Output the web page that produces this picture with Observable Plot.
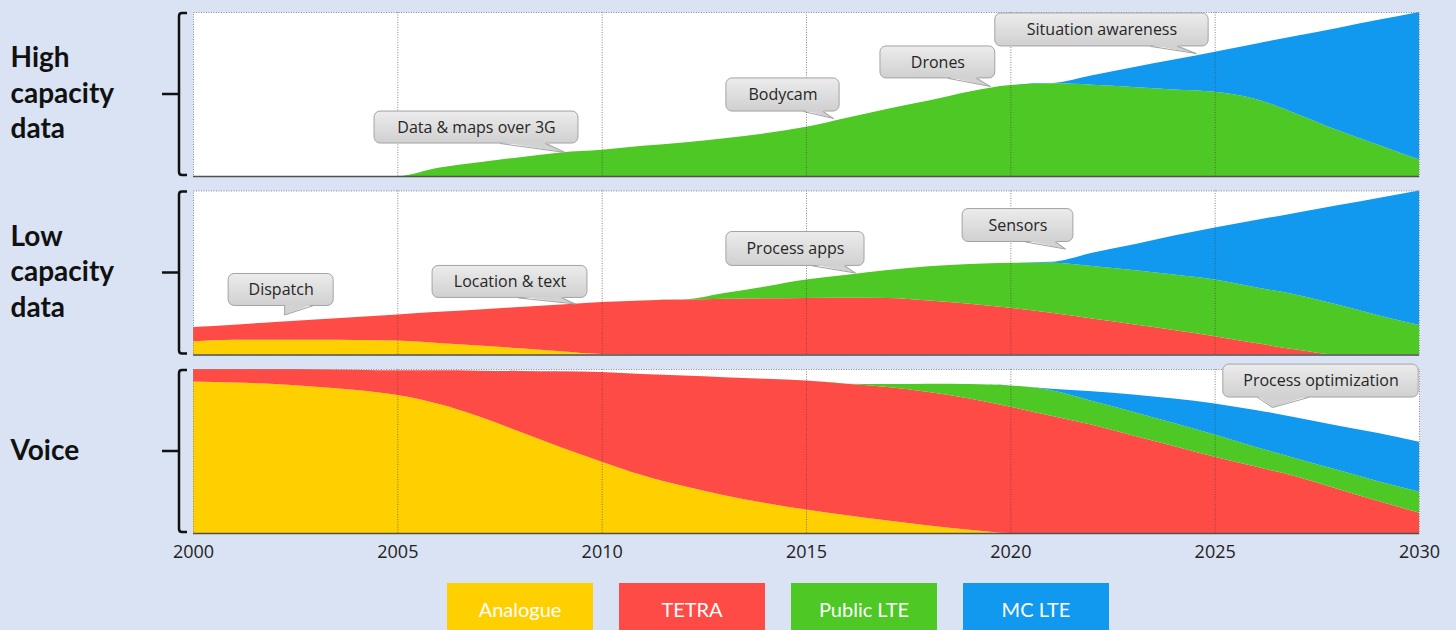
<!DOCTYPE html>
<html>
<head>
<meta charset="utf-8">
<script src="https://cdn.jsdelivr.net/npm/d3@7"></script>
<script src="https://cdn.jsdelivr.net/npm/@observablehq/plot@0.6"></script>
<style>
  html, body { margin: 0; padding: 0; }
  body { width: 1456px; height: 630px; overflow: hidden; background: #DAE3F3; position: relative; font-family: "Open Sans", sans-serif; }
  #chart { position: absolute; left: 0; top: 0; }
  #legend { position: absolute; left: 0; top: 583px; width: 1456px; height: 52px; }
  .item { position: absolute; top: 0; width: 146px; height: 52px; color: #fff; font-family: Lato, sans-serif; font-size: 20px; display: flex; align-items: center; justify-content: center; }
</style>
</head>
<body>
<div id="chart"></div>
<div id="legend"></div>
<script>
// ---------- data ----------
const years = [2000,2001,2002,2003,2004,2005,2006,2007,2008,2009,2010,2011,2012,2013,2014,2015,2016,2017,2018,2019,2020,2021,2022,2023,2024,2025,2026,2027,2028,2029,2030];
const techs = ["Analogue", "TETRA", "Public LTE", "MC LTE"];
const techColors = ["#FFD000", "#FF4B45", "#4DC825", "#1199F0"];
const panels = ["High capacity data", "Low capacity data", "Voice"];
const panelLabels = ["High\ncapacity\ndata", "Low\ncapacity\ndata", "Voice"];
const xTicks = [2000, 2005, 2010, 2015, 2020, 2025, 2030];

// High capacity data (layer thickness, % of panel height)
const highAnalogue  = [0,0,0,0,0,0,0,0,0,0,0,0,0,0,0,0,0,0,0,0,0,0,0,0,0,0,0,0,0,0,0];
const highTETRA     = [0,0,0,0,0,0,0,0,0,0,0,0,0,0,0,0,0,0,0,0,0,0,0,0,0,0,0,0,0,0,0];
const highPublicLTE = [0,0,0,0,0,0,5,8.4,11.5,14.4,16,18.4,20.5,23,26,30,35.5,41,46,51.5,55.5,56.5,55.7,54.3,52.8,51.4,47,38,28,19,10];
const highMCLTE     = [0,0,0,0,0,0,0,0,0,0,0,0,0,0,0,0,0,0,0,0,0,0,5.8,12,18.2,24.4,33.7,47.5,62.3,76.2,90];

// Low capacity data
const lowAnalogue  = [8,9,9,9,8.8,8.5,7,5.5,3.8,2,0.3,0,0,0,0,0,0,0,0,0,0,0,0,0,0,0,0,0,0,0,0];
const lowTETRA     = [8.7,9.2,10.8,12.3,14.1,15.9,19,22,25.2,28.5,31.7,33,33.5,34,34.3,34.5,34.6,34.5,33,31,28.5,25.5,22,18.5,15,11.2,7,3,0,0,0];
const lowPublicLTE = [0,0,0,0,0,0,0,0,0,0,0,0,0,3.5,7.2,11.2,14.1,17,20.8,24.2,27.4,30.5,32,33,33.8,34.5,34,33.5,30.5,24,18];
const lowMCLTE     = [0,0,0,0,0,0,0,0,0,0,0,0,0,0,0,0,0,0,0,0,0,0.5,8,15.5,23.7,31.8,41,50,60.5,71.5,82];

// Voice
const voiceAnalogue  = [92.3,91.7,90.9,89.2,87.2,84.1,78.8,71,61.8,52.3,43.5,35.2,28.6,23,18.3,14.3,10.8,7.6,4.6,2,0,0,0,0,0,0,0,0,0,0,0];
const voiceTETRA     = [7.7,8.3,9.1,10.6,12.4,15.1,20.4,28,37,46.3,54.7,61.8,67.4,72,75.7,78.7,80.2,81.4,81.4,80,77,71.5,66,59.5,53,46.5,40.5,34.5,27,19.5,12.4];
const voicePublicLTE = [0,0,0,0,0,0,0,0,0,0,0,0,0,0,0,0,0,1.8,5,8.8,13,15.5,14.5,14.5,14,13.5,12,11,11.5,12,12.8];
const voiceMCLTE     = [0,0,0,0,0,0,0,0,0,0,0,0,0,0,0,0,0,0,0,0,0,1,6,10.5,15,19,22.5,25,27,29.5,30.5];

// Callout annotations: box extent (x1..x2 years, y1..y2 values), pointer base (b1..b2) and tip (tx, ty)
const callouts = [
  {panel: "High capacity data", label: "Data & maps over 3G", x1: 2004.43, x2: 2009.42, y1: 20.1, y2: 39.6, b1: 2007.51, b2: 2008.61, tx: 2009.10, ty: 14.6},
  {panel: "High capacity data", label: "Bodycam", x1: 2013.04, x2: 2015.81, y1: 39.6, y2: 59.8, b1: 2014.93, b2: 2015.40, tx: 2015.66, ty: 35.4},
  {panel: "High capacity data", label: "Drones", x1: 2016.81, x2: 2019.62, y1: 59.8, y2: 79.3, b1: 2018.47, b2: 2019.16, tx: 2019.50, ty: 54.9},
  {panel: "High capacity data", label: "Situation awareness", x1: 2019.62, x2: 2024.84, y1: 79.3, y2: 99.4, b1: 2023.42, b2: 2024.08, tx: 2024.54, ty: 75},
  {panel: "Low capacity data", label: "Dispatch", x1: 2000.86, x2: 2003.43, y1: 29.9, y2: 49.4, b1: 2002.23, b2: 2002.91, tx: 2002.23, ty: 24.4},
  {panel: "Low capacity data", label: "Location & text", x1: 2005.85, x2: 2009.64, y1: 34.8, y2: 54.3, b1: 2007.95, b2: 2009.0, tx: 2009.35, ty: 31.1},
  {panel: "Low capacity data", label: "Process apps", x1: 2013.04, x2: 2016.42, y1: 54.3, y2: 75, b1: 2015.15, b2: 2015.93, tx: 2016.2, ty: 50},
  {panel: "Low capacity data", label: "Sensors", x1: 2018.82, x2: 2021.53, y1: 68.9, y2: 89, b1: 2020.36, b2: 2021.09, tx: 2021.34, ty: 64.6},
  {panel: "Voice", label: "Process optimization", x1: 2025.20, x2: 2029.98, y1: 82.9, y2: 103, b1: 2026.04, b2: 2027.28, tx: 2026.40, ty: 76.8}
];

// ---------- build tables ----------
const series = {
  "High capacity data": [highAnalogue, highTETRA, highPublicLTE, highMCLTE],
  "Low capacity data": [lowAnalogue, lowTETRA, lowPublicLTE, lowMCLTE],
  "Voice": [voiceAnalogue, voiceTETRA, voicePublicLTE, voiceMCLTE]
};
const rows = [];
for (const p of panels) {
  series[p].forEach((vals, ti) => {
    vals.forEach((v, yi) => rows.push({panel: p, tech: techs[ti], year: years[yi], value: v}));
  });
}
const wedgeFill = [], wedgeStroke = [];
for (const c of callouts) {
  wedgeFill.push({id: c.label, panel: c.panel, x: c.b1, y: c.y1 + 0.9});
  wedgeFill.push({id: c.label, panel: c.panel, x: c.tx, y: c.ty});
  wedgeFill.push({id: c.label, panel: c.panel, x: c.b2, y: c.y1 + 0.9});
  wedgeStroke.push({id: c.label, panel: c.panel, x: c.b1, y: c.y1});
  wedgeStroke.push({id: c.label, panel: c.panel, x: c.tx, y: c.ty});
  wedgeStroke.push({id: c.label, panel: c.panel, x: c.b2, y: c.y1});
}

// Brace decoration per panel, derived from the scales
function braces(index, scales) {
  const ns = "http://www.w3.org/2000/svg";
  const x0 = scales.x(2000);
  const yb = scales.y(0), yt = scales.y(100);
  const ym = (yb + yt) / 2;
  const vx = x0 - 14;
  const p = document.createElementNS(ns, "path");
  p.setAttribute("d",
    `M${x0 - 6},${yt + 1} H${vx + 3} Q${vx},${yt + 1} ${vx},${yt + 4} V${yb - 4} Q${vx},${yb - 1} ${vx + 3},${yb - 1} H${x0 - 6} M${vx},${ym} H${x0 - 31}`);
  p.setAttribute("fill", "none");
  p.setAttribute("stroke", "#111");
  p.setAttribute("stroke-width", "2.5");
  return p;
}

const plot = Plot.plot({
  width: 1456,
  height: 565,
  marginLeft: 193,
  marginRight: 37,
  marginTop: 12,
  marginBottom: 32,
  style: {background: "transparent", fontFamily: "Open Sans, sans-serif", overflow: "visible"},
  x: {domain: [2000, 2030]},
  y: {domain: [0, 100], axis: null},
  fy: {domain: panels, paddingInner: 0.0812, paddingOuter: 0, axis: null, label: null, round: false},
  color: {domain: techs, range: techColors},
  marks: [
    Plot.frame({fill: "white", stroke: "none"}),
    Plot.areaY(rows, {x: "year", y: "value", fill: "tech", fy: "panel", order: techs, curve: "monotone-x"}),
    Plot.ruleX([2005, 2010, 2015, 2020, 2025], {stroke: "#444", strokeOpacity: 0.65, strokeDasharray: "1,1.5"}),
    Plot.frame({stroke: "#8c8c8c", strokeDasharray: "1,1.5"}),
    Plot.ruleY([0], {stroke: "#505050", strokeWidth: 1.5}),
    braces,
    Plot.text(panels, {fy: d => d, text: (d, i) => panelLabels[i], frameAnchor: "left", dx: -183, dy: -3, textAnchor: "start",
      fontSize: 28, fontWeight: "bold", lineHeight: 1.27, fill: "#111", fontFamily: "Lato, sans-serif"}),
    Plot.rect(callouts, {x1: "x1", x2: "x2", y1: "y1", y2: "y2", fy: "panel", rx: 6, fill: "url(#calloutGrad)", stroke: "#a3a3a3", strokeWidth: 1}),
    Plot.line(wedgeFill, {x: "x", y: "y", z: "id", fy: "panel", fill: "#d2d2d2", stroke: "none", curve: "linear"}),
    Plot.line(wedgeStroke, {x: "x", y: "y", z: "id", fy: "panel", stroke: "#a3a3a3", strokeWidth: 1, curve: "linear"}),
    Plot.text(callouts, {x: d => (d.x1 + d.x2) / 2, y: d => (d.y1 + d.y2) / 2, fy: "panel", text: "label", fontSize: 16, fill: "#262626"}),
    Plot.axisX({ticks: xTicks, tickSize: 0, tickPadding: 12, fontSize: 18, tickFormat: d => String(d), label: null, fill: "#222"})
  ]
});

// gradient definition for callout boxes
const svg = d3.select(plot);
const defs = svg.insert("defs", ":first-child");
const grad = defs.append("linearGradient").attr("id", "calloutGrad").attr("x1", 0).attr("y1", 0).attr("x2", 0).attr("y2", 1);
grad.append("stop").attr("offset", "0%").attr("stop-color", "#ececec");
grad.append("stop").attr("offset", "100%").attr("stop-color", "#d0d0d0");

document.getElementById("chart").appendChild(plot);

// legend
const legend = document.getElementById("legend");
const lefts = [447, 619, 791, 963];
techs.forEach((t, i) => {
  const d = document.createElement("div");
  d.className = "item";
  d.style.left = lefts[i] + "px";
  d.style.background = techColors[i];
  d.textContent = t;
  legend.appendChild(d);
});
</script>
</body>
</html>
